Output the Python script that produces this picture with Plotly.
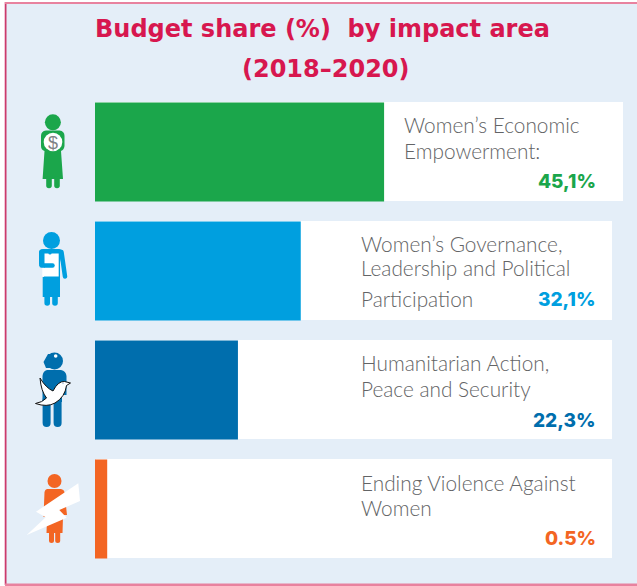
import base64
import plotly.graph_objects as go

# Budget share per impact area
areas = ["Economic", "Governance", "Humanitarian", "Violence"]
shares = [45.1, 32.1, 22.3, 0.5]
share_labels = ["45,1%", "32,1%", "22,3%", "0.5%"]
colors = ["#1BA64B", "#009FDF", "#006EAD", "#F36523"]
area_lines = [
    ["Women’s Economic", "Empowerment:"],
    ["Women’s Governance,", "Leadership and Political", "Participation"],
    ["Humanitarian Action,", "Peace and Security"],
    ["Ending Violence Against", "Women"],
]
title_lines = ["Budget share (%)\u00a0\u00a0by impact area", "(2018–2020)"]

W, H = 637, 586
PX_PER_PCT = 6.41
TEXT = "#636466"
TITLE = "#D7174F"
PANEL = "#E4EEF8"
TITLE_FONT = "DejaVu Sans"
LABEL_FONT = "Inter"
BODY_FONT = "Lato"


def fx(px):
    return px / W


def fy(px):
    return 1 - px / H


def rect(x0, y0, x1, y1, color):
    return dict(type="rect", xref="paper", yref="paper", x0=fx(x0), x1=fx(x1),
                y0=fy(y1), y1=fy(y0), fillcolor=color, line_width=0, layer="below")


def note(x, y, text, color, size, font, weight, anchor):
    return dict(xref="paper", yref="paper", x=fx(x), y=fy(y), text=text, showarrow=False,
                xanchor=anchor, yanchor="middle", align=anchor, borderpad=0, borderwidth=0,
                font=dict(family=font, size=size, color=color, weight=weight))


def svg_icon(x0, y0, w, h, body):
    svg = (f'<svg xmlns="http://www.w3.org/2000/svg" width="{w*3}" height="{h*3}" '
           f'viewBox="{x0} {y0} {w} {h}">{body}</svg>')
    uri = "data:image/svg+xml;base64," + base64.b64encode(svg.encode()).decode()
    return dict(source=uri, xref="paper", yref="paper", x=fx(x0), y=fy(y0),
                sizex=w / W, sizey=h / H, xanchor="left", yanchor="top",
                sizing="stretch", layer="above")


def limb(x1, y1, x2, y2, width, color):
    return (f'<line x1="{x1}" y1="{y1}" x2="{x2}" y2="{y2}" stroke="{color}" '
            f'stroke-width="{width}" stroke-linecap="round"/>')


# Pictograms beside each bar
c = colors[0]
woman_money = (
    f'<circle cx="52.9" cy="122.3" r="8" fill="{c}"/>'
    f'<path d="M46 130.5H59.5Q64.5 131 64.5 136V146Q64 150 61 151L63 179H42.6L44.5 151Q41 150 41 146V136Q41 131 46 130.5Z" fill="{c}"/>'
    + limb(49, 179, 49, 185.5, 5.6, c) + limb(57, 179, 57, 185.5, 5.6, c)
    + '<circle cx="53" cy="142" r="9.3" fill="#fff"/>'
    '<text x="53" y="148.5" text-anchor="middle" font-family="Liberation Sans" '
    'font-size="18" fill="#808285">$</text>'
)
c = colors[1]
woman_clipboard = (
    f'<circle cx="51.5" cy="240.5" r="8.5" fill="{c}"/>'
    f'<path d="M43 249H59Q62 249 62.5 252L60 262V277H60V297H42.7V277H44V262L39.5 256V252Q40 249 43 249Z" fill="{c}"/>'
    + limb(61.5, 252, 65, 276.5, 4.5, c) + limb(41.5, 252, 41.5, 264, 5, c)
    + '<path d="M44.5 253.5H58.7V276.5H42.3V268H44.5Z" fill="#fff"/>'
    + limb(41.5, 265.5, 52.5, 265.5, 4.5, c)
    + f'<circle cx="50" cy="253" r="1.6" fill="{c}"/>'
    + limb(47.2, 296, 47.2, 303, 5.6, c) + limb(55, 296, 55, 303, 5.6, c)
)
c = colors[2]
dove = (
    "M40 378Q46 388 53 391Q58 381 64.5 381.5L70.5 383L66.5 385.5"
    "Q65 397 55 403Q47 407.5 35.5 403.5Q42 402.5 46.5 398Q41 391 40 378Z"
)
woman_dove = (
    f'<circle cx="54.5" cy="361" r="8.5" fill="{c}"/>'
    f'<path d="M43.5 362L48 354L54 354V368H46Z" fill="{c}"/>'
    '<circle cx="55.7" cy="356" r="1.8" fill="#fff"/>'
    f'<path d="M47 370H61Q66 371 66.5 376V395H62V402H42.5V376Q43 371 47 370Z" fill="{c}"/>'
    + limb(46.6, 400, 46.6, 423, 8, c) + limb(57.6, 400, 57.6, 423, 8, c)
    + f'<path d="{dove}" fill="#fff" stroke="#111" stroke-width="1" stroke-linejoin="round"/>'
    + '<circle cx="63" cy="383.5" r="0.7" fill="#9DB7D5"/>'
)
c = colors[3]
woman_bolt = (
    f'<circle cx="54.5" cy="481" r="7" fill="{c}"/>'
    f'<path d="M47 489H61Q64 489.5 64.5 492L67 515H63V517L62.5 533H46.5L47 517H43.5L44.5 492Q45 489.5 47 489Z" fill="{c}"/>'
    + limb(51.5, 533, 51.5, 540.5, 5, c) + limb(57.7, 533, 57.7, 540.5, 5, c)
    + '<path d="M78.3 483.3L80 501L59.3 510L66.7 517.7L26.7 535L45.7 517.3L36 511.7Z" fill="#fff"/>'
)

images = [
    svg_icon(30, 110, 45, 85, woman_money),
    svg_icon(30, 228, 45, 85, woman_clipboard),
    svg_icon(25, 348, 55, 85, woman_dove),
    svg_icon(20, 470, 65, 80, woman_bolt),
]

# Panel, frame and the white rows behind the bars
shapes = [
    rect(5, 2, W, 585, PANEL),
    rect(4, 2, 5, 585, "#F2C6D6"),
    rect(5, 2, 6.5, 585, "#CB3A6C"),
    rect(5, 2, W, 4, "#E8829F"),
    rect(5, 583.5, W, 586, "#E8829F"),
]
row_right = [623, 612, 612, 612]
row_left = [95, 95, 95, 96]
row_top = [102, 221, 340, 459]
for left, right, top in zip(row_left, row_right, row_top):
    shapes.append(rect(left, top, right, top + 99, "#FFFFFF"))

# Text: title, area names and share labels
annotations = [
    note(322, 29, title_lines[0], TITLE, 24, TITLE_FONT, 700, "center"),
    note(326, 69, title_lines[1], TITLE, 24, TITLE_FONT, 700, "center"),
]
line_x = [404, 361, 361, 361]
line_y = [[124, 150], [243, 268, 298], [362, 388], [482, 507]]
for lines, x, ys, col in zip(area_lines, line_x, line_y, colors):
    for text, y in zip(lines, ys):
        annotations.append(note(x, y, text, TEXT, 20.8, BODY_FONT, 300, "left"))
label_y = [181, 299, 420, 538]
for text, y, col in zip(share_labels, label_y, colors):
    annotations.append(note(596, y, text, col, 19, LABEL_FONT, 800, "right"))

# The smallest share carries a heavy outline so it stays legible; the rest have none
line_widths = [0, 0, 0, 18]
bar_widths = [99 / 119, 99 / 119, 99 / 119, 81 / 119]

fig = go.Figure(go.Bar(
    x=shares, y=areas, orientation="h", width=bar_widths, cliponaxis=True,
    marker=dict(color=colors, line=dict(color=colors, width=line_widths)),
    hoverinfo="skip",
))
fig.update_layout(
    width=W, height=H, margin=dict(l=0, r=0, t=0, b=0),
    paper_bgcolor="#FFFFFF", plot_bgcolor="rgba(0,0,0,0)", showlegend=False,
    xaxis=dict(domain=[fx(95), fx(623)], range=[0, 528 / PX_PER_PCT], visible=False, fixedrange=True),
    yaxis=dict(domain=[fy(568.5), fy(92.5)], autorange="reversed", visible=False, fixedrange=True,
               categoryorder="array", categoryarray=areas),
    shapes=shapes, annotations=annotations, images=images,
)
fig.write_html("out.html", config=dict(displayModeBar=False))
